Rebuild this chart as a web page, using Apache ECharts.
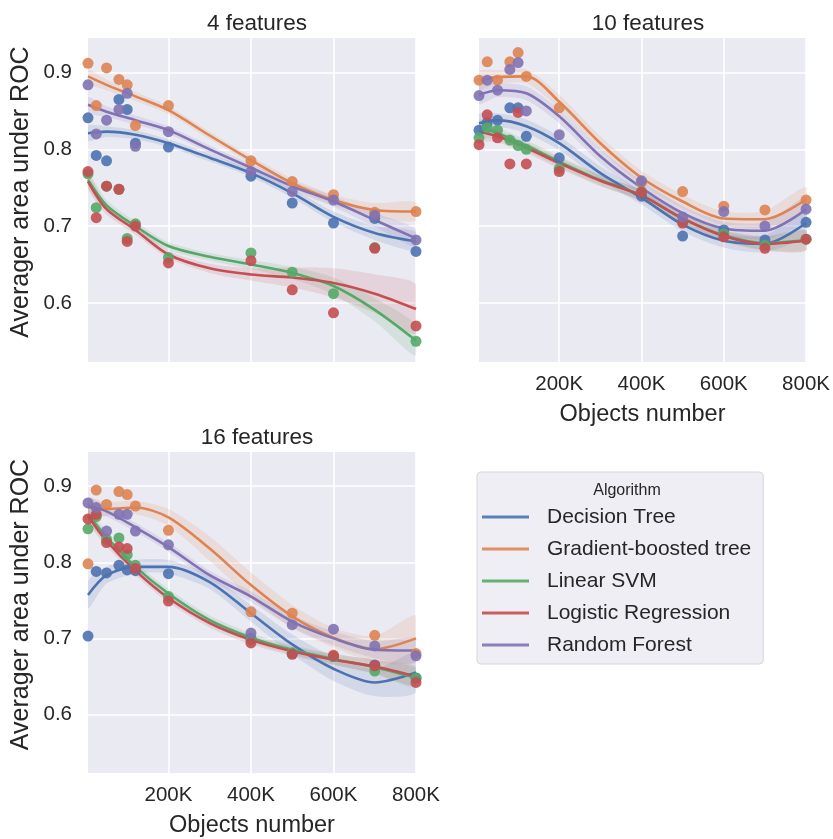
<!DOCTYPE html>
<html>
<head>
<meta charset="utf-8">
<script src="https://cdn.jsdelivr.net/npm/echarts@6/dist/echarts.min.js"></script>
<style>
html,body{margin:0;padding:0;background:#fff;}
#chart{width:833px;height:839px;}
</style>
</head>
<body>
<div id="chart"></div>
<script>
// ---------- data ----------
const ALGORITHMS = ['Decision Tree', 'Gradient-boosted tree', 'Linear SVM', 'Logistic Regression', 'Random Forest'];
const PANEL_TITLES = ['4 features', '10 features', '16 features'];
const X_TICKS = [200000, 400000, 600000, 800000];
const Y_TICKS = [0.6, 0.7, 0.8, 0.9];
const POINT_X = [5000, 25000, 50000, 80000, 100000, 120000, 200000, 400000, 500000, 600000, 700000, 800000];
const CURVE_X = [5000, 50000, 120000, 200000, 300000, 400000, 500000, 600000, 700000, 800000];

// 4 features – observed points
const f4_dt_pts  = [0.841, 0.792, 0.785, 0.865, 0.852, 0.808, 0.803, 0.765, 0.730, 0.704, 0.710, 0.667];
const f4_gbt_pts = [0.912, 0.857, 0.906, 0.891, 0.884, 0.831, 0.857, 0.785, 0.758, 0.741, 0.718, 0.719];
const f4_svm_pts = [0.768, 0.724, 0.752, 0.748, 0.684, 0.703, 0.659, 0.665, 0.640, 0.612, 0.672, 0.550];
const f4_lr_pts  = [0.771, 0.711, 0.752, 0.748, 0.680, 0.700, 0.652, 0.655, 0.617, 0.587, 0.671, 0.570];
const f4_rf_pts  = [0.884, 0.820, 0.838, 0.852, 0.873, 0.804, 0.823, 0.771, 0.745, 0.734, 0.714, 0.682];
// 4 features – fitted curves
const f4_dt_fit  = [0.821, 0.823, 0.819, 0.808, 0.789, 0.769, 0.743, 0.712, 0.691, 0.680];
const f4_gbt_fit = [0.895, 0.884, 0.869, 0.851, 0.818, 0.786, 0.756, 0.734, 0.721, 0.719];
const f4_svm_fit = [0.760, 0.727, 0.700, 0.674, 0.660, 0.650, 0.639, 0.622, 0.591, 0.551];
const f4_lr_fit  = [0.758, 0.722, 0.695, 0.663, 0.645, 0.637, 0.633, 0.626, 0.612, 0.592];
const f4_rf_fit  = [0.858, 0.849, 0.838, 0.825, 0.800, 0.776, 0.752, 0.732, 0.708, 0.684];
// 4 features – confidence half-widths
const f4_dt_ci  = [0.010, 0.007, 0.006, 0.005, 0.005, 0.005, 0.006, 0.007, 0.009, 0.012];
const f4_gbt_ci = [0.009, 0.007, 0.006, 0.005, 0.005, 0.005, 0.006, 0.007, 0.009, 0.012];
const f4_svm_ci = [0.010, 0.007, 0.006, 0.005, 0.005, 0.006, 0.008, 0.011, 0.015, 0.020];
const f4_lr_ci  = [0.010, 0.007, 0.006, 0.005, 0.006, 0.008, 0.013, 0.019, 0.025, 0.032];
const f4_rf_ci  = [0.010, 0.007, 0.006, 0.005, 0.005, 0.005, 0.006, 0.007, 0.009, 0.012];

// 10 features – observed points
const f10_dt_pts  = [0.825, 0.835, 0.838, 0.854, 0.854, 0.817, 0.789, 0.739, 0.687, 0.695, 0.682, 0.705];
const f10_gbt_pts = [0.890, 0.914, 0.890, 0.914, 0.926, 0.895, 0.854, 0.757, 0.745, 0.726, 0.721, 0.734];
const f10_svm_pts = [0.815, 0.828, 0.825, 0.812, 0.805, 0.800, 0.775, 0.745, 0.705, 0.690, 0.675, 0.683];
const f10_lr_pts  = [0.806, 0.845, 0.815, 0.781, 0.848, 0.781, 0.771, 0.744, 0.704, 0.686, 0.671, 0.683];
const f10_rf_pts  = [0.870, 0.890, 0.877, 0.904, 0.913, 0.850, 0.819, 0.759, 0.712, 0.719, 0.700, 0.722];
// 10 features – fitted curves
const f10_dt_fit  = [0.834, 0.838, 0.830, 0.808, 0.769, 0.737, 0.702, 0.681, 0.677, 0.704];
const f10_gbt_fit = [0.890, 0.894, 0.895, 0.862, 0.808, 0.763, 0.732, 0.710, 0.709, 0.735];
const f10_svm_fit = [0.828, 0.821, 0.805, 0.784, 0.760, 0.740, 0.710, 0.688, 0.678, 0.682];
const f10_lr_fit  = [0.823, 0.817, 0.802, 0.782, 0.759, 0.740, 0.710, 0.687, 0.677, 0.681];
const f10_rf_fit  = [0.871, 0.877, 0.873, 0.843, 0.791, 0.750, 0.717, 0.697, 0.694, 0.722];
// 10 features – confidence half-widths
const f10_dt_ci  = [0.012, 0.009, 0.009, 0.009, 0.009, 0.009, 0.009, 0.009, 0.011, 0.016];
const f10_gbt_ci = [0.012, 0.009, 0.009, 0.009, 0.009, 0.009, 0.009, 0.009, 0.011, 0.016];
const f10_svm_ci = [0.011, 0.008, 0.007, 0.007, 0.007, 0.007, 0.007, 0.007, 0.009, 0.013];
const f10_lr_ci  = [0.011, 0.008, 0.007, 0.007, 0.007, 0.007, 0.007, 0.007, 0.009, 0.013];
const f10_rf_ci  = [0.012, 0.009, 0.009, 0.009, 0.009, 0.009, 0.009, 0.009, 0.011, 0.016];

// 16 features – observed points
const f16_dt_pts  = [0.703, 0.788, 0.786, 0.796, 0.790, 0.789, 0.785, 0.700, 0.680, 0.676, 0.665, 0.648];
const f16_gbt_pts = [0.798, 0.895, 0.876, 0.893, 0.889, 0.874, 0.842, 0.735, 0.733, 0.678, 0.704, 0.680];
const f16_svm_pts = [0.844, 0.860, 0.830, 0.832, 0.810, 0.796, 0.755, 0.698, 0.681, 0.676, 0.657, 0.648];
const f16_lr_pts  = [0.857, 0.863, 0.826, 0.820, 0.818, 0.792, 0.749, 0.694, 0.679, 0.677, 0.664, 0.642];
const f16_rf_pts  = [0.878, 0.872, 0.841, 0.863, 0.863, 0.841, 0.823, 0.707, 0.718, 0.712, 0.690, 0.677];
// 16 features – fitted curves
const f16_dt_fit  = [0.757, 0.783, 0.794, 0.794, 0.774, 0.733, 0.692, 0.660, 0.642, 0.655];
const f16_gbt_fit = [0.872, 0.870, 0.872, 0.859, 0.818, 0.770, 0.729, 0.701, 0.686, 0.700];
const f16_svm_fit = [0.863, 0.833, 0.794, 0.759, 0.724, 0.701, 0.685, 0.673, 0.662, 0.648];
const f16_lr_fit  = [0.861, 0.828, 0.789, 0.753, 0.720, 0.698, 0.683, 0.672, 0.663, 0.650];
const f16_rf_fit  = [0.874, 0.867, 0.846, 0.820, 0.783, 0.755, 0.722, 0.700, 0.685, 0.684];
// 16 features – confidence half-widths
const f16_dt_ci  = [0.018, 0.011, 0.009, 0.009, 0.009, 0.011, 0.013, 0.016, 0.018, 0.026];
const f16_gbt_ci = [0.013, 0.009, 0.009, 0.011, 0.016, 0.017, 0.015, 0.013, 0.017, 0.030];
const f16_svm_ci = [0.009, 0.007, 0.006, 0.006, 0.006, 0.006, 0.006, 0.007, 0.009, 0.013];
const f16_lr_ci  = [0.009, 0.007, 0.006, 0.006, 0.006, 0.006, 0.006, 0.007, 0.009, 0.013];
const f16_rf_ci  = [0.011, 0.007, 0.006, 0.006, 0.006, 0.007, 0.008, 0.009, 0.011, 0.016];

// ---------- styling ----------
const COLORS = ['#4C72B0', '#DD8452', '#55A868', '#C44E52', '#8172B3'];
const FONT = "'Liberation Sans', Arial, sans-serif";
const TEXT = '#262626';
const BG = '#EAEAF2';

const PANELS = [
  { pts: [f4_dt_pts, f4_gbt_pts, f4_svm_pts, f4_lr_pts, f4_rf_pts],
    fit: [f4_dt_fit, f4_gbt_fit, f4_svm_fit, f4_lr_fit, f4_rf_fit],
    ci:  [f4_dt_ci, f4_gbt_ci, f4_svm_ci, f4_lr_ci, f4_rf_ci] },
  { pts: [f10_dt_pts, f10_gbt_pts, f10_svm_pts, f10_lr_pts, f10_rf_pts],
    fit: [f10_dt_fit, f10_gbt_fit, f10_svm_fit, f10_lr_fit, f10_rf_fit],
    ci:  [f10_dt_ci, f10_gbt_ci, f10_svm_ci, f10_lr_ci, f10_rf_ci] },
  { pts: [f16_dt_pts, f16_gbt_pts, f16_svm_pts, f16_lr_pts, f16_rf_pts],
    fit: [f16_dt_fit, f16_gbt_fit, f16_svm_fit, f16_lr_fit, f16_rf_fit],
    ci:  [f16_dt_ci, f16_gbt_ci, f16_svm_ci, f16_lr_ci, f16_rf_ci] }
];

const GRIDS = [
  { left: 88, top: 38, width: 328, height: 324 },
  { left: 479, top: 38, width: 328, height: 324 },
  { left: 88, top: 452, width: 328, height: 324 }
];
const SHOW_X_LABEL = [false, true, true];
const SHOW_Y_LABEL = [true, false, true];

const chart = echarts.init(document.getElementById('chart'), null, { renderer: 'canvas' });

const grid = GRIDS.map(g => Object.assign({ show: true, backgroundColor: BG, borderWidth: 0, containLabel: false }, g));

const xAxis = GRIDS.map((g, i) => ({
  type: 'value', gridIndex: i, min: 5000, max: 800000,
  axisLine: { show: false },
  axisTick: { show: false, customValues: X_TICKS },
  axisLabel: { show: SHOW_X_LABEL[i], customValues: X_TICKS, margin: 12,
    formatter: v => (v / 1000) + 'K', color: TEXT, fontSize: 20.5, fontFamily: FONT },
  splitLine: { show: true, lineStyle: { color: '#ffffff', width: 1.6 } },
  name: SHOW_X_LABEL[i] ? 'Objects number' : '',
  nameLocation: 'middle', nameGap: 41,
  nameTextStyle: { color: TEXT, fontSize: 23.5, fontFamily: FONT }
}));

const yAxis = GRIDS.map((g, i) => ({
  type: 'value', gridIndex: i, min: 0.523, max: 0.945,
  axisLine: { show: false },
  axisTick: { show: false, customValues: Y_TICKS },
  axisLabel: { show: SHOW_Y_LABEL[i], customValues: Y_TICKS, margin: 16,
    formatter: v => v.toFixed(1), color: TEXT, fontSize: 20.5, fontFamily: FONT },
  splitLine: { show: true, lineStyle: { color: '#ffffff', width: 1.6 } },
  name: SHOW_Y_LABEL[i] ? 'Averager area under ROC' : '',
  nameLocation: 'middle', nameGap: 54, nameRotate: 90,
  nameTextStyle: { color: TEXT, fontSize: 25, fontFamily: FONT, padding: [0, 0, 0, 16] }
}));

// confidence band drawn as one polygon through the axis scales
function bandRenderer(xs, fit, ci, color) {
  return function (params, api) {
    if (params.dataIndex !== 0) return null;
    const upper = xs.map((x, k) => api.coord([x, fit[k] + ci[k]]));
    const lower = xs.map((x, k) => api.coord([x, fit[k] - ci[k]])).reverse();
    return {
      type: 'polygon',
      shape: { points: upper.concat(lower), smooth: 0.25 },
      style: { fill: color, opacity: 0.15 },
      silent: true
    };
  };
}

const series = [];
PANELS.forEach((p, gi) => {
  ALGORITHMS.forEach((name, a) => {
    const color = COLORS[a];
    series.push({
      type: 'scatter', name: name, xAxisIndex: gi, yAxisIndex: gi,
      data: POINT_X.map((x, k) => [x, p.pts[a][k]]),
      symbolSize: 11, itemStyle: { color: color, opacity: 0.9 },
      silent: true, z: 2
    });
    series.push({
      type: 'custom', name: '_band', xAxisIndex: gi, yAxisIndex: gi,
      data: CURVE_X.map((x, k) => [x, p.fit[a][k]]),
      renderItem: bandRenderer(CURVE_X, p.fit[a], p.ci[a], color),
      clip: true, silent: true, z: 2
    });
    series.push({
      type: 'line', name: name, xAxisIndex: gi, yAxisIndex: gi,
      data: CURVE_X.map((x, k) => [x, p.fit[a][k]]),
      symbol: 'none', smooth: 0.3, color: color,
      lineStyle: { color: color, width: 2.6 }, silent: true, z: 2
    });
  });
});

const titles = PANEL_TITLES.map((t, i) => ({
  text: t,
  left: GRIDS[i].left + GRIDS[i].width / 2,
  top: GRIDS[i].top - 31,
  textAlign: 'center',
  textStyle: { color: TEXT, fontSize: 22.5, fontWeight: 'normal', fontFamily: FONT }
}));
titles.push({
  text: 'Algorithm', left: 622, top: 478, textAlign: 'center',
  textStyle: { color: TEXT, fontSize: 16, fontWeight: 'normal', fontFamily: FONT }
});

const option = {
  animation: false,
  backgroundColor: '#ffffff',
  title: titles,
  grid: grid,
  xAxis: xAxis,
  yAxis: yAxis,
  legend: {
    data: ALGORITHMS.map(n => ({ name: n })),
    orient: 'vertical',
    left: 477, top: 472,
    width: 290,
    icon: 'rect',
    itemWidth: 47, itemHeight: 3,
    itemGap: 8,
    selectedMode: false,
    backgroundColor: 'rgba(236,236,243,0.9)',
    borderColor: '#d6d6dc', borderWidth: 1, borderRadius: 4,
    padding: [33, 12, 7, 5],
    textStyle: { color: TEXT, fontSize: 21, fontFamily: FONT, lineHeight: 24, padding: [0, 0, 0, 13] }
  },
  series: series
};
chart.setOption(option);
</script>
</body>
</html>
